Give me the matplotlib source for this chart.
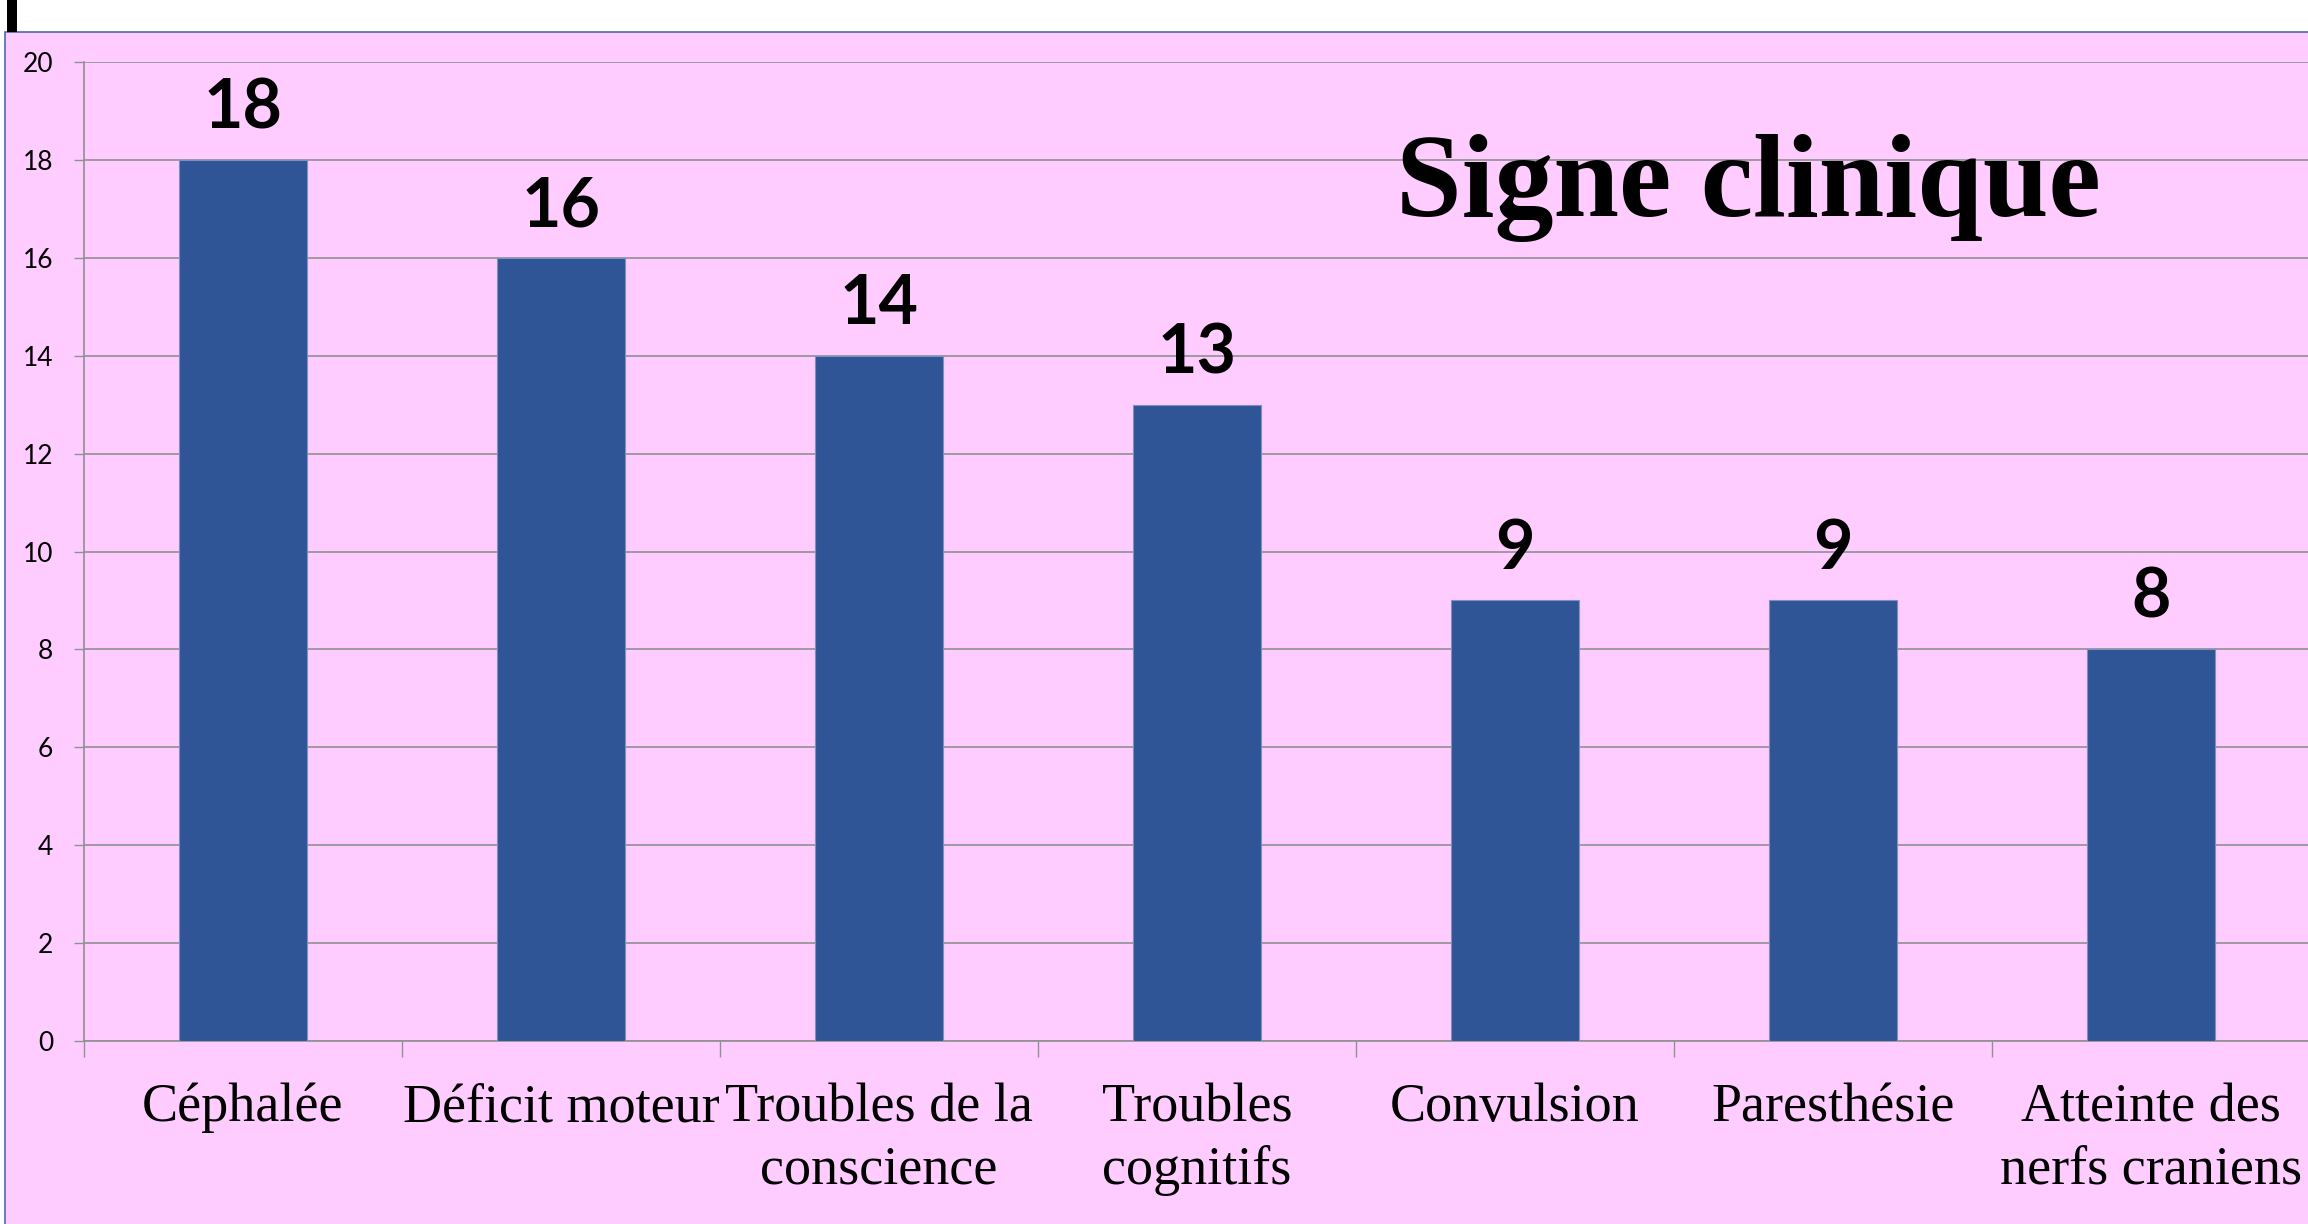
import matplotlib
matplotlib.use("Agg")
import matplotlib.pyplot as plt
from matplotlib.patches import Rectangle

categories = ["Céphalée", "Déficit moteur", "Troubles de la\nconscience", "Troubles\ncognitifs",
              "Convulsion", "Paresthésie", "Atteinte des\nnerfs craniens"]
values = [18, 16, 14, 13, 9, 9, 8]
yticks = [0, 2, 4, 6, 8, 10, 12, 14, 16, 18, 20]
title = "Signe clinique"

W, H = 2308, 1224
DPI = 100
fig = plt.figure(figsize=(W / DPI, H / DPI), dpi=DPI, facecolor="white")

# pink panel
fig.patches.append(Rectangle((5 / W, -0.01), 1.0, (H - 32) / H + 0.01, transform=fig.transFigure,
                             facecolor="#FFCCFF", edgecolor="#4A6AAD", linewidth=1.2, zorder=-5))
# black mark top-left
fig.patches.append(Rectangle((7 / W, (H - 32) / H), 10 / W, 32 / H, transform=fig.transFigure,
                             facecolor="black", edgecolor="none", zorder=-5))

left, right = 84, 84 + 318 * 7
top, bottom = 62, 1041
ax = fig.add_axes([left / W, (H - bottom) / H, (right - left) / W, (bottom - top) / H])
ax.set_zorder(2)
ax.set_facecolor("none")

x = list(range(len(categories)))
ax.bar(x, values, width=0.4, color="#2F5597", edgecolor="#7F8FC0", linewidth=0.8, zorder=3)

ax.set_xlim(-0.5, len(categories) - 0.5)
ax.set_ylim(0, 20)
ax.set_yticks(yticks)
ax.set_yticklabels([str(v) for v in yticks], fontsize=19, family="Lato", color="black")
ax.yaxis.grid(True, color="#909090", linewidth=1.2, zorder=0)
ax.set_axisbelow(True)

ax.set_xticks(x)
ax.set_xticklabels(categories, fontsize=39, family="Liberation Serif", color="black", linespacing=1.3)
ax.set_xticks([i - 0.5 for i in range(len(categories) + 1)], minor=True)
ax.tick_params(axis="x", which="major", length=0, pad=30)
ax.tick_params(axis="x", which="minor", length=11.5, width=1.0, color="#909090", direction="out")
ax.tick_params(axis="y", length=7.2, width=1.0, color="#909090", direction="out", pad=15)

for s in ["top", "right"]:
    ax.spines[s].set_visible(False)
ax.spines["left"].set_color("#909090")
ax.spines["bottom"].set_color("#909090")
ax.spines["left"].set_linewidth(1.2)
ax.spines["bottom"].set_linewidth(1.2)

for xi, v in zip(x, values):
    ax.annotate(str(v), (xi, v), xytext=(0, 14), textcoords="offset points",
                ha="center", va="bottom", fontsize=49, fontweight="bold", family="Lato", color="black")

fig.text(1748 / W, (H - 216) / H, title, ha="center", va="baseline", fontsize=85,
         fontweight="bold", family="Liberation Serif", color="black", zorder=5)

fig.savefig("out.png", dpi=DPI, facecolor="white")
